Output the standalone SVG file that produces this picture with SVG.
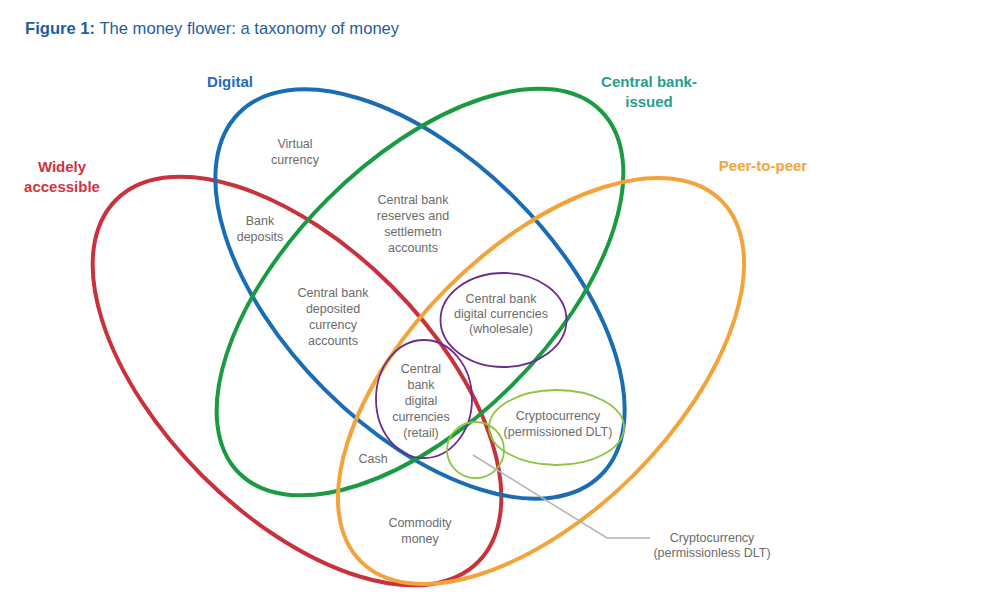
<svg xmlns="http://www.w3.org/2000/svg" width="987" height="596" viewBox="0 0 987 596">
<style>
  .petal { fill: none; stroke-width: 4; }
  .sub { fill: none; stroke-width: 1.8; }
  .lbl { font-family: "Liberation Sans", Arial, sans-serif; font-size: 12.5px; fill: #6b6b6b; text-anchor: middle; }
  .cat { font-family: "Liberation Sans", Arial, sans-serif; font-size: 15px; font-weight: bold; text-anchor: middle; }
</style>
<rect width="987" height="596" fill="#ffffff"/>
<text x="25" y="34" font-family="Liberation Sans, Arial, sans-serif" font-size="16.6" fill="#1f5d9e"><tspan font-weight="bold">Figure 1:</tspan> The money flower: a taxonomy of money</text>

<g id="widely-accessible">
  <ellipse class="petal" cx="297" cy="381" rx="256" ry="134" transform="rotate(45 297 381)" stroke="#c9323c"/>
  <text class="cat" fill="#d0343e"><tspan x="62" y="172">Widely</tspan><tspan x="62" y="192">accessible</tspan></text>
</g>
<g id="digital">
  <ellipse class="petal" cx="420" cy="294" rx="256" ry="135" transform="rotate(45 420 294)" stroke="#1a6cb5"/>
  <text class="cat" x="230" y="87" fill="#1e6bb8">Digital</text>
</g>
<g id="central-bank-issued">
  <ellipse class="petal" cx="420" cy="292" rx="256" ry="131" transform="rotate(-45 420 292)" stroke="#1a9a42"/>
  <text class="cat" fill="#2a9d8a"><tspan x="649" y="87">Central bank-</tspan><tspan x="649" y="107">issued</tspan></text>
</g>
<g id="peer-to-peer">
  <ellipse class="petal" cx="541" cy="381" rx="255" ry="132" transform="rotate(-45 541 381)" stroke="#f4a33b"/>
  <text class="cat" x="763" y="171" fill="#f4a33b">Peer-to-peer</text>
</g>

<g id="virtual-currency">
  <text class="lbl"><tspan x="295" y="148">Virtual</tspan><tspan x="295" y="164">currency</tspan></text>
</g>
<g id="bank-deposits">
  <text class="lbl"><tspan x="260" y="225">Bank</tspan><tspan x="260" y="241">deposits</tspan></text>
</g>
<g id="cb-reserves">
  <text class="lbl"><tspan x="413" y="204">Central bank</tspan><tspan x="413" y="220">reserves and</tspan><tspan x="413" y="236">settlemetn</tspan><tspan x="413" y="252">accounts</tspan></text>
</g>
<g id="cb-deposited">
  <text class="lbl"><tspan x="333" y="297">Central bank</tspan><tspan x="333" y="313">deposited</tspan><tspan x="333" y="329">currency</tspan><tspan x="333" y="345">accounts</tspan></text>
</g>
<g id="cbdc-wholesale">
  <ellipse class="sub" cx="503.5" cy="320" rx="63" ry="47" stroke="#6b2d8c"/>
  <text class="lbl"><tspan x="501" y="303">Central bank</tspan><tspan x="501" y="318">digital currencies</tspan><tspan x="501" y="333">(wholesale)</tspan></text>
</g>
<g id="cbdc-retail">
  <ellipse class="sub" cx="424" cy="399" rx="48" ry="59" stroke="#6b2d8c"/>
  <text class="lbl"><tspan x="421" y="373">Central</tspan><tspan x="421" y="389">bank</tspan><tspan x="421" y="405">digital</tspan><tspan x="421" y="421">currencies</tspan><tspan x="421" y="437">(retail)</tspan></text>
</g>
<g id="crypto-permissioned">
  <ellipse class="sub" cx="556.5" cy="427.5" rx="67.5" ry="37.5" stroke="#8dc63f"/>
  <text class="lbl"><tspan x="558" y="420">Cryptocurrency</tspan><tspan x="558" y="436">(permissioned DLT)</tspan></text>
</g>
<g id="crypto-permissionless">
  <ellipse class="sub" cx="475.5" cy="450" rx="28.5" ry="28" stroke="#8dc63f"/>
  <text class="lbl"><tspan x="712" y="542">Cryptocurrency</tspan><tspan x="712" y="557">(permissionless DLT)</tspan></text>
</g>
<g id="cash">
  <text class="lbl" x="373" y="463">Cash</text>
</g>
<g id="commodity-money">
  <text class="lbl"><tspan x="420" y="527">Commodity</tspan><tspan x="420" y="543">money</tspan></text>
</g>

<g id="connectors">
  <polyline points="473,455 607,538 650,538" fill="none" stroke="#b3b3b3" stroke-width="1.5"/>
</g>
</svg>
